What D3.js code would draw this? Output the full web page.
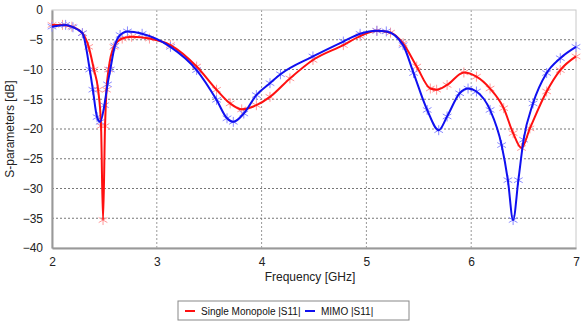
<!DOCTYPE html>
<html>
<head>
<meta charset="utf-8">
<script src="https://cdn.jsdelivr.net/npm/d3@7"></script>
<style>
  body { margin: 0; background: #fff; }
  text { font-family: "Liberation Sans", Arial, sans-serif; }
</style>
</head>
<body>
<svg id="drawing_region"></svg>
<script>
// Single Monopole |S11| samples
var monoFreq = [2.00, 2.10, 2.19, 2.29, 2.35, 2.40, 2.44, 2.468, 2.487, 2.506, 2.52, 2.54, 2.59, 2.67, 2.76, 2.93,
  3.13, 3.38, 3.57, 3.70, 3.81, 3.95, 4.08, 4.27, 4.49, 4.78, 4.94, 5.10, 5.23, 5.35, 5.48,
  5.61, 5.67, 5.77, 5.93, 6.05, 6.18, 6.31, 6.40, 6.48, 6.56, 6.72, 6.85, 7.00];
var monoS11 = [-2.5, -2.5, -2.8, -3.9, -6.2, -10.0, -13.4, -19.5, -35.3, -19.5, -13.4, -10.0, -6.2, -4.8, -4.5, -4.8,
  -5.9, -9.5, -13.4, -15.7, -16.7, -16.0, -14.6, -11.5, -8.4, -5.9, -4.4, -3.5, -3.8, -5.6, -9.5,
  -13.2, -13.4, -12.6, -10.5, -11.2, -13.2, -16.5, -20.7, -23.2, -19.9, -13.7, -10.1, -7.8];

// MIMO |S11| samples
var mimoFreq = [2.00, 2.13, 2.20, 2.29, 2.36, 2.39, 2.43, 2.46, 2.50, 2.53, 2.556, 2.60, 2.65, 2.72, 2.86,
  3.13, 3.38, 3.57, 3.67, 3.73, 3.83, 3.95, 4.08, 4.18, 4.49, 4.78, 4.94, 5.10, 5.19, 5.35,
  5.45, 5.58, 5.69, 5.77, 5.89, 5.97, 6.05, 6.18, 6.29, 6.35, 6.40, 6.45, 6.50, 6.59, 6.72, 6.85, 7.00];
var mimoS11 = [-2.8, -2.5, -2.9, -3.9, -10.0, -13.4, -18.0, -18.8, -16.0, -12.5, -10.0, -6.0, -4.2, -3.6, -4.0,
  -6.2, -10.1, -15.1, -18.2, -18.8, -17.4, -14.3, -12.3, -10.8, -7.8, -5.3, -4.0, -3.5, -3.6, -5.9,
  -10.6, -16.8, -20.2, -17.9, -14.0, -13.2, -13.7, -16.8, -22.7, -28.6, -35.3, -28.6, -21.8, -15.7, -10.6, -8.1, -6.2];

var xTicks = [2, 3, 4, 5, 6, 7];
var yTicks = [0, -5, -10, -15, -20, -25, -30, -35, -40];

var series = [
  { name: "Single Monopole |S11|", freq: monoFreq, vals: monoS11, color: "#ff1010", marker: "#ff9a9a" },
  { name: "MIMO |S11|", freq: mimoFreq, vals: mimoS11, color: "#1010f0", marker: "#8c8cff" }
];

var width = 582;
var height = 325;
var margin = {top: 10, right: 6, bottom: 77, left: 52};

var svg = d3.select('#drawing_region')
    .attr('width', width)
    .attr('height', height);

var chart = svg.append('g')
    .attr('transform', `translate(${margin.left}, ${margin.top})`);

const inner_width = width - margin.left - margin.right;
const inner_height = height - margin.top - margin.bottom;

const xscale = d3.scaleLinear().domain([2, 7]).range([0, inner_width]);
const yscale = d3.scaleLinear().domain([-40, 0]).range([inner_height, 0]);

// grid
chart.append('g').selectAll('line').data(xTicks.slice(1, -1)).enter()
    .append('line')
    .attr('x1', d => xscale(d)).attr('x2', d => xscale(d))
    .attr('y1', 0).attr('y2', inner_height)
    .attr('stroke', '#999').attr('stroke-dasharray', '2,2');
chart.append('g').selectAll('line').data(yTicks.slice(1, -1)).enter()
    .append('line')
    .attr('y1', d => yscale(d)).attr('y2', d => yscale(d))
    .attr('x1', 0).attr('x2', inner_width)
    .attr('stroke', '#777').attr('stroke-dasharray', '2,2');

// frame
chart.append('rect')
    .attr('width', inner_width).attr('height', inner_height)
    .attr('fill', 'none').attr('stroke', '#c8c8c8');

// axes
const xaxis = d3.axisBottom(xscale).tickValues(xTicks).tickFormat(d3.format('d')).tickSize(0).tickPadding(9);
const yaxis = d3.axisLeft(yscale).tickValues(yTicks).tickFormat(d3.format('d')).tickSize(0).tickPadding(9);

const xg = chart.append('g').attr('transform', `translate(0, ${inner_height})`).call(xaxis);
const yg = chart.append('g').call(yaxis);
[xg, yg].forEach(g => {
  g.select('.domain').attr('stroke', '#999').attr('stroke-width', 2);
  g.selectAll('text').attr('font-size', 12).attr('fill', '#222')
    .attr('font-family', '"Liberation Sans", Arial, sans-serif');
});

svg.append('text')
    .attr('x', margin.left + inner_width / 2 - 4).attr('y', 281)
    .attr('text-anchor', 'middle').attr('font-size', 12).attr('fill', '#222')
    .text('Frequency [GHz]');
svg.append('text')
    .attr('transform', `translate(14, ${margin.top + inner_height / 2}) rotate(-90)`)
    .attr('text-anchor', 'middle').attr('font-size', 12).attr('fill', '#222')
    .text('S-parameters [dB]');

// curves
const line = d3.line()
    .x(d => xscale(d[0]))
    .y(d => yscale(d[1]))
    .curve(d3.curveMonotoneX);

const star = d3.symbol().type(d3.symbolAsterisk).size(70);

series.forEach(s => {
  const pts = s.freq.map((f, i) => [f, s.vals[i]]);
  chart.append('g').selectAll('path').data(pts).enter()
      .append('path')
      .attr('d', star)
      .attr('transform', d => `translate(${xscale(d[0])}, ${yscale(d[1])})`)
      .attr('fill', 'none').attr('stroke', s.marker).attr('stroke-width', 1);
});
series.forEach(s => {
  const pts = s.freq.map((f, i) => [f, s.vals[i]]);
  chart.append('path')
      .datum(pts)
      .attr('d', line)
      .attr('fill', 'none')
      .attr('stroke', s.color)
      .attr('stroke-width', 2);
});

// legend
const legend = svg.append('g').attr('transform', 'translate(178, 301)');
legend.append('rect')
    .attr('width', 231).attr('height', 19)
    .attr('fill', '#fff').attr('stroke', '#888');
const items = legend.selectAll('g.item').data(series).enter()
    .append('g')
    .attr('transform', (d, i) => `translate(${i === 0 ? 7 : 127}, 10)`);
items.append('line')
    .attr('x1', 0).attr('x2', 10)
    .attr('stroke', d => d.color).attr('stroke-width', 2);
items.append('text')
    .attr('x', 16).attr('y', 3.5)
    .attr('font-size', 10).attr('fill', '#111')
    .text(d => d.name);
</script>
</body>
</html>
